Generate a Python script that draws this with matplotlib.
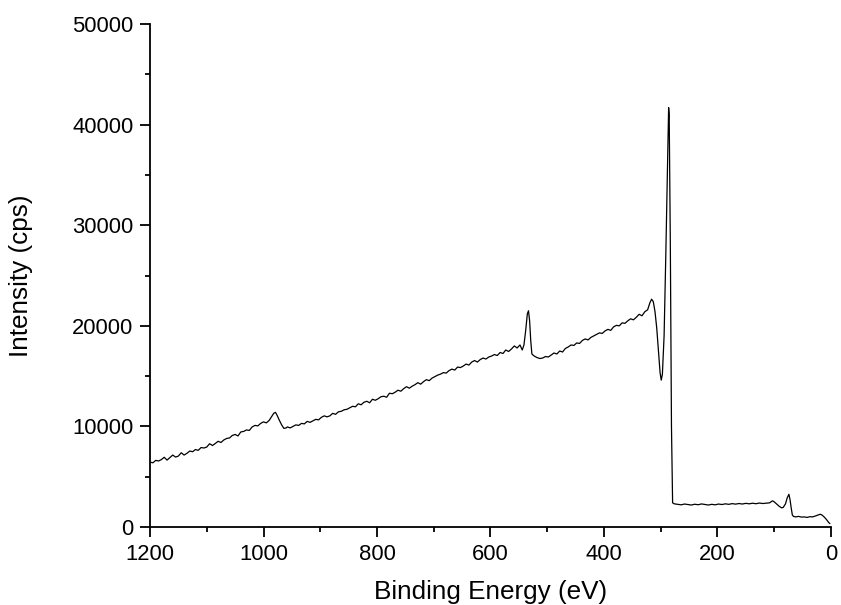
import matplotlib
matplotlib.use("Agg")
import matplotlib.pyplot as plt
from matplotlib.ticker import MultipleLocator

plt.rcParams['font.family'] = ['Liberation Sans', 'DejaVu Sans']

energy = [
    1200, 1195, 1190, 1185, 1180, 1175, 1170, 1165, 1160, 1155, 1150, 1145, 1140, 1135, 1130, 1125,
    1120, 1115, 1110, 1105, 1100, 1095, 1090, 1085, 1080, 1075, 1070, 1065, 1060,
    1055, 1050, 1045, 1040, 1035, 1030, 1025, 1020, 1015, 1010, 1005, 1000, 995, 990,
    986, 982, 979, 976, 972, 968, 964, 960,
    958, 953, 948, 943, 938, 933, 928, 923, 918, 913, 908, 903, 898, 893, 888, 883, 878, 873,
    868, 863, 858, 853, 848, 843, 838, 833, 828, 823, 818, 813, 808, 803, 798, 793, 788, 783,
    778, 773, 768, 763, 758, 753, 748, 743, 738, 733, 728, 723, 718, 713, 708, 703, 698, 693,
    688, 683, 678, 673, 668, 663, 658, 653, 648, 643, 638, 633, 628, 623, 618, 613, 608, 603,
    598, 593, 588, 583, 578, 573, 568, 563, 558, 553, 548, 544, 541, 538, 535, 533, 531, 529,
    527, 523, 518, 513, 508,
    503, 498, 493, 488, 483, 478, 473, 468, 463, 458, 453, 448, 443, 438, 433, 428, 423, 418,
    413, 408, 403, 398, 393, 388, 383, 378, 373, 368, 363, 358, 353, 348, 343, 338, 333, 328,
    323, 319, 316, 313, 310, 307, 304, 301, 299, 297, 294, 291, 288, 286, 285, 283, 281, 279,
    276, 270, 264, 258, 252, 246, 240, 234, 228, 222, 216, 210, 204, 198, 192, 186, 180, 174,
    168, 162, 156, 150, 144, 138, 132, 126, 120, 114, 108, 103, 100, 96, 91, 87, 84, 80, 77,
    74, 72, 70, 68, 66, 62, 57, 52, 47, 42, 37, 32, 27, 22, 19, 16, 12, 8, 4, 2,
]

intensity = [
    6450, 6380, 6620, 6560, 6700, 6930, 6650, 6900, 7150, 6950, 7050, 7380, 7150, 7320, 7550, 7480,
    7700, 7620, 7900, 7850, 7950, 8280, 8100, 8300, 8520, 8400, 8650, 8800, 8850,
    9100, 9200, 9050, 9450, 9500, 9650, 9600, 9950, 10100, 10050, 10300, 10450, 10350, 10600,
    10950, 11300, 11400, 11100, 10600, 10150, 9800, 9850,
    9950, 9850, 10000, 10150, 10100, 10300, 10250, 10500, 10400, 10550, 10700, 10650, 10900,
    11050, 10950, 11050, 11300, 11200,
    11450, 11500, 11650, 11700, 11850, 12000, 11950, 12250, 12150, 12400, 12500, 12350, 12700,
    12600, 12750, 12950, 13000, 12900,
    13300, 13250, 13400, 13600, 13500, 13750, 13950, 13800, 14000, 14150, 14350, 14200, 14450,
    14650, 14550, 14800, 14950, 15100,
    15200, 15350, 15300, 15550, 15700, 15600, 15900, 15850, 16000, 16200, 16100, 16400, 16550,
    16400, 16650, 16800, 16700, 16900,
    17000, 17150, 17050, 17350, 17250, 17600, 17450, 17700, 18000, 17800, 18100, 17600, 18100,
    19500, 21200, 21500, 20500, 18500,
    17200, 17000, 16850, 16750, 16800,
    16950, 16900, 17100, 17300, 17200, 17500, 17400, 17750, 17900, 18100, 18050, 18300, 18250,
    18550, 18700, 18600, 18850, 19000,
    19150, 19300, 19250, 19500, 19650, 19550, 19900, 20050, 20000, 20300, 20250, 20500, 20700,
    20600, 20850, 21150, 21000, 21400,
    21600, 22300, 22650, 22400, 21400, 19800, 17500, 15300, 14600, 15200, 19000, 27000, 36000,
    41700, 41000, 28000, 10000, 2400,
    2300, 2250, 2200, 2280, 2230, 2180, 2260, 2210, 2290, 2240, 2180, 2250, 2200, 2280, 2230,
    2300, 2250, 2320,
    2270, 2330, 2280, 2350, 2300, 2360, 2310, 2380, 2330, 2370, 2400, 2600, 2500, 2300, 2050,
    1900, 1950, 2300, 2900,
    3250, 2700, 1900, 1200, 1050, 1000, 1050, 980, 1000, 950, 1020, 1000, 1100, 1200, 1260,
    1200, 1000, 750, 450, 350,
]

x_ticks = [1200, 1000, 800, 600, 400, 200, 0]
y_ticks = [0, 10000, 20000, 30000, 40000, 50000]

fig = plt.figure(figsize=(8.41, 6.05), dpi=100)
ax = fig.add_axes([0.1784, 0.129, 0.8096, 0.831])

ax.plot(energy, intensity, color='black', linewidth=0.9)

ax.set_xlim(1200, 0)
ax.set_ylim(0, 50000)
ax.set_xticks(x_ticks)
ax.set_yticks(y_ticks)
ax.set_xticklabels([str(v) for v in x_ticks])
ax.set_yticklabels([str(v) for v in y_ticks])
ax.xaxis.set_minor_locator(MultipleLocator(100))
ax.yaxis.set_minor_locator(MultipleLocator(5000))

ax.spines['top'].set_visible(False)
ax.spines['right'].set_visible(False)
for s in ('left', 'bottom'):
    ax.spines[s].set_linewidth(1.3)

ax.tick_params(which='major', direction='out', length=7, width=1.3, labelsize=15.8, pad=5)
ax.tick_params(which='minor', direction='out', length=3.5, width=1.3)

ax.set_xlabel('Binding Energy (eV)', fontsize=18.8, labelpad=11)
ax.set_ylabel('Intensity (cps)', fontsize=18.8, labelpad=28)

fig.savefig('out.png', dpi=100)
